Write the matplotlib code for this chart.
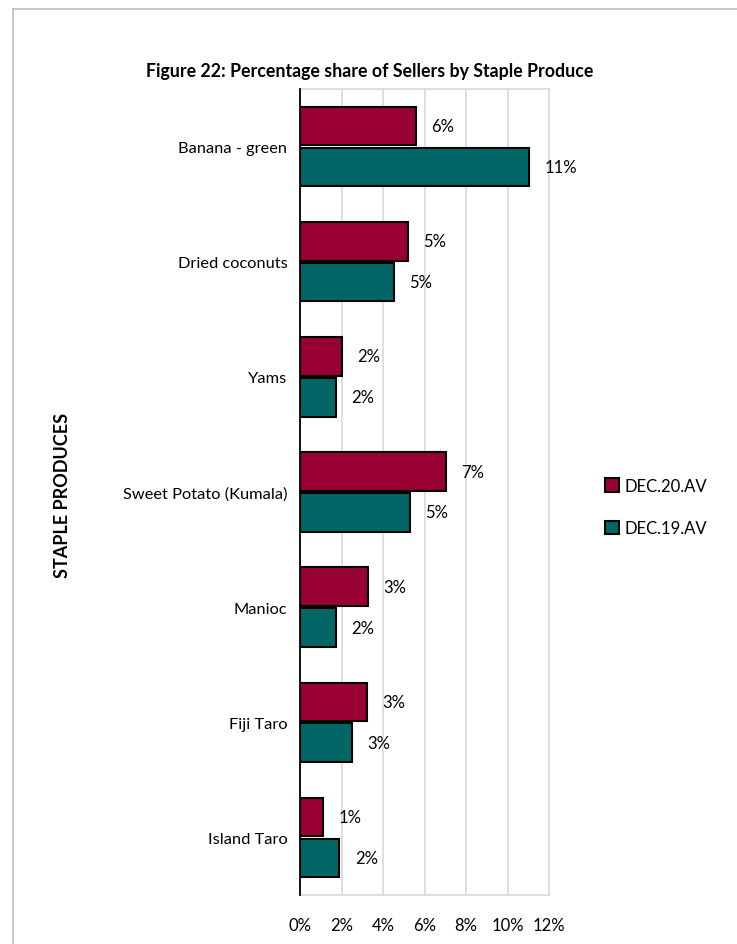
import matplotlib
matplotlib.use("Agg")
import matplotlib.pyplot as plt
from matplotlib.patches import Patch
from matplotlib.lines import Line2D
import numpy as np

categories = ["Banana - green", "Dried coconuts", "Yams", "Sweet Potato (Kumala)",
              "Manioc", "Fiji Taro", "Island Taro"]
dec20 = [5.57, 5.19, 2.04, 7.02, 3.29, 3.25, 1.12]
dec19 = [11.05, 4.52, 1.72, 5.28, 1.75, 2.51, 1.90]
labels20 = ["6%", "5%", "2%", "7%", "3%", "3%", "1%"]
labels19 = ["11%", "5%", "2%", "5%", "2%", "3%", "2%"]
series_names = ["DEC.20.AV", "DEC.19.AV"]
xticks = [0, 2, 4, 6, 8, 10, 12]
xticklabels = ["0%", "2%", "4%", "6%", "8%", "10%", "12%"]

RED = "#990033"
TEAL = "#006666"

plt.rcParams['font.family'] = ['Lato', 'DejaVu Sans']

W, H = 737, 945
fig = plt.figure(figsize=(W / 100, H / 100), dpi=100)
ax = fig.add_axes([300 / W, 1 - 896 / H, (549 - 300) / W, (896 - 90) / H])

y = np.arange(len(categories))
h = 0.335
off = 0.178
ax.barh(y - off, dec20, height=h, color=RED, edgecolor="black", linewidth=1.5, zorder=3)
ax.barh(y + off, dec19, height=h, color=TEAL, edgecolor="black", linewidth=1.5, zorder=3)

for yi, v, t in zip(y, dec20, labels20):
    ax.annotate(t, (v, yi - off), xytext=(11, 0), textcoords="offset points",
                va="center", ha="left", fontsize=12, color="#000000")
for yi, v, t in zip(y, dec19, labels19):
    ax.annotate(t, (v, yi + off), xytext=(11, 0), textcoords="offset points",
                va="center", ha="left", fontsize=12, color="#000000")

ax.set_xlim(0, 12)
ax.set_ylim(len(categories) - 0.5, -0.5)
ax.set_xticks(xticks)
ax.set_xticklabels(xticklabels, fontsize=12)
ax.set_yticks(y)
ax.set_yticklabels(categories, fontsize=11.8)
ax.tick_params(axis="x", length=0, pad=16)
ax.tick_params(axis="y", length=0, pad=9)
for lbl in ax.get_yticklabels():
    lbl.set_y(lbl.get_position()[1])

ax.grid(axis="x", color="#d9d9d9", linewidth=1.2, zorder=0)
ax.set_axisbelow(True)
for s in ["top", "right", "bottom"]:
    ax.spines[s].set_color("#d9d9d9")
    ax.spines[s].set_linewidth(1.2)
ax.spines["left"].set_color("black")
ax.spines["left"].set_linewidth(1.3)
ax.spines["left"].set_zorder(5)

fig.text(62 / W, 1 - 495 / H, "STAPLE PRODUCES", rotation=90, ha="center", va="center",
         fontsize=13, fontweight="bold")
fig.text(370 / W, 1 - 72 / H, "Figure 22: Percentage share of Sellers by Staple Produce",
         ha="center", va="center", fontsize=12.8, fontweight="bold")

handles = [Patch(facecolor=RED, edgecolor="black", linewidth=1.5),
           Patch(facecolor=TEAL, edgecolor="black", linewidth=1.5)]
fig.legend(handles, series_names, loc="center left",
           bbox_to_anchor=(605 / W, 1 - 508 / H), frameon=False, fontsize=12,
           handlelength=0.85, handleheight=0.85, handletextpad=0.35,
           labelspacing=1.6, borderpad=0, borderaxespad=0)

# outer chart border
fig.add_artist(Line2D([13 / W, 13 / W], [0, 1 - 10 / H], color="#bfbfbf", linewidth=1.2,
                      transform=fig.transFigure))
fig.add_artist(Line2D([13 / W, 1], [1 - 10 / H, 1 - 10 / H], color="#bfbfbf", linewidth=1.2,
                      transform=fig.transFigure))

fig.savefig("out.png", dpi=100, facecolor="white")
